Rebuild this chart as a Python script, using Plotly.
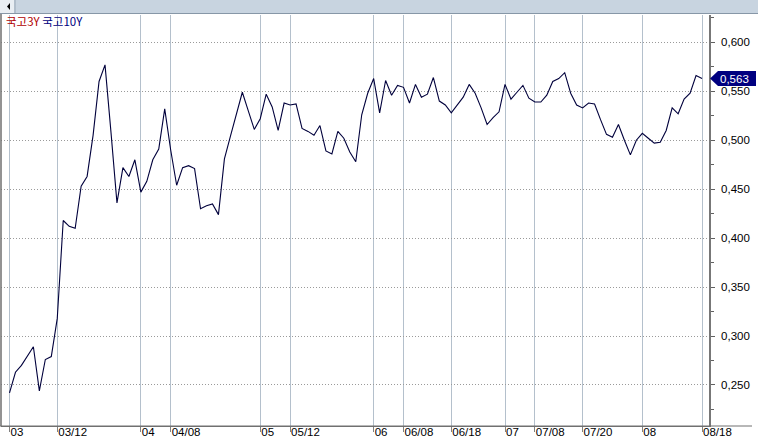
import plotly.graph_objects as go

# ---- data ----
idx_ticks = [0, 8, 22, 27, 42, 47, 61, 66, 74, 83, 88, 96, 106, 116]
x_labels = ["03", "03/12", "04", "04/08", "05", "05/12", "06", "06/08", "06/18",
            "07", "07/08", "07/20", "08", "08/18"]

spread_10y = [
    0.242, 0.263, 0.270, 0.279, 0.289, 0.244, 0.276, 0.279, 0.318, 0.418,
    0.412, 0.410, 0.453, 0.463, 0.505, 0.560, 0.577, 0.508, 0.436, 0.472,
    0.463, 0.480, 0.447, 0.458, 0.480, 0.491, 0.532, 0.490, 0.454, 0.472,
    0.474, 0.471, 0.430, 0.433, 0.435, 0.424, 0.481, 0.504, 0.527, 0.549,
    0.530, 0.511, 0.522, 0.547, 0.534, 0.510, 0.538, 0.536, 0.537, 0.512,
    0.509, 0.505, 0.515, 0.489, 0.486, 0.509, 0.502, 0.488, 0.478, 0.526,
    0.548, 0.563, 0.528, 0.561, 0.546, 0.556, 0.554, 0.538, 0.557, 0.544,
    0.547, 0.564, 0.540, 0.536, 0.528, 0.536, 0.544, 0.557, 0.548, 0.533,
    0.516, 0.523, 0.529, 0.557, 0.542, 0.549, 0.556, 0.543, 0.539, 0.539,
    0.546, 0.560, 0.563, 0.569, 0.548, 0.536, 0.533, 0.538, 0.537, 0.521,
    0.506, 0.503, 0.516, 0.500, 0.485, 0.500, 0.507, 0.502, 0.497, 0.498,
    0.510, 0.533, 0.527, 0.542, 0.548, 0.566, 0.563,
]
y_tickvals = [0.25, 0.30, 0.35, 0.40, 0.45, 0.50, 0.55, 0.60]
y_ticktext = ["0,250", "0,300", "0,350", "0,400", "0,450", "0,500", "0,550", "0,600"]
last_label = "0,563"

# ---- layout geometry (pixels) ----
W, H = 758, 442
L, R, T, B = 1, 49, 15, 16
PW, PH = W - L - R, H - T - B
YMIN, YMAX = 0.2081, 0.6279
XMIN, XMAX = -1.424, 117.17


def px_x(p):
    return (p - L) / PW


def px_y(p):
    return (H - B - p) / PH


x = list(range(len(spread_10y)))

fig = go.Figure()
fig.add_trace(go.Scatter(
    x=x, y=spread_10y, mode="lines",
    line=dict(color="#00003c", width=1.1),
    hoverinfo="skip", showlegend=False,
))

font_lbl = dict(family="Liberation Sans, Arial, sans-serif", size=11.5, color="#000000")

fig.update_layout(
    width=W, height=H,
    margin=dict(l=L, r=R, t=T, b=B, autoexpand=False),
    paper_bgcolor="#ffffff", plot_bgcolor="#ffffff",
    showlegend=False,
    xaxis=dict(
        range=[XMIN, XMAX], tickmode="array", tickvals=idx_ticks, ticktext=x_labels,
        ticklabelposition="outside right", tickangle=0, ticks="outside", ticklen=5,
        tickcolor="#808080", tickfont=font_lbl, ticklabelstandoff=-5,
        showgrid=True, gridcolor="#b4c0cc", gridwidth=1,
        showline=True, linecolor="#707070", linewidth=1,
        zeroline=False, automargin=False, fixedrange=True,
    ),
    yaxis=dict(
        side="right", range=[YMIN, YMAX], tickmode="array",
        tickvals=y_tickvals, ticktext=y_ticktext,
        ticks="outside", ticklen=4, tickcolor="#606060", tickfont=font_lbl,
        ticklabelstandoff=4,
        minor=dict(dtick=0.025, tick0=0.25, ticklen=3, tickcolor="#606060",
                   ticks="outside", showgrid=False),
        showgrid=True, gridcolor="#9a9a9a", gridwidth=1, griddash="1px,2px",
        showline=True, linecolor="#777777", linewidth=1.5,
        zeroline=False, automargin=False, fixedrange=True,
    ),
)

shapes = []
# top scrollbar
shapes.append(dict(type="rect", xref="paper", yref="paper",
                   x0=px_x(0), x1=px_x(W), y0=px_y(13), y1=px_y(0),
                   fillcolor="#c8d4e0", line=dict(width=0), layer="above"))
shapes.append(dict(type="rect", xref="paper", yref="paper",
                   x0=px_x(0), x1=px_x(14), y0=px_y(13), y1=px_y(0),
                   fillcolor="#e9eef3", line=dict(width=0), layer="above"))
shapes.append(dict(type="line", xref="paper", yref="paper",
                   x0=px_x(15), x1=px_x(15), y0=px_y(13), y1=px_y(0),
                   line=dict(color="#9aa8b6", width=1), layer="above"))
shapes.append(dict(type="path", xref="paper", yref="paper",
                   path=f"M {px_x(7)},{px_y(6.5)} L {px_x(10)},{px_y(3)} L {px_x(10)},{px_y(10)} Z",
                   fillcolor="#000000", line=dict(width=0), layer="above"))
shapes.append(dict(type="line", xref="paper", yref="paper",
                   x0=px_x(0), x1=px_x(W), y0=px_y(13.5), y1=px_y(13.5),
                   line=dict(color="#8797a7", width=1), layer="above"))
# left border
shapes.append(dict(type="line", xref="paper", yref="paper",
                   x0=px_x(1), x1=px_x(1), y0=0, y1=px_y(14),
                   line=dict(color="#6f6f6f", width=1.5), layer="above"))
# bottom axis line extension
shapes.append(dict(type="line", xref="paper", yref="paper",
                   x0=px_x(0), x1=px_x(752), y0=0, y1=0,
                   line=dict(color="#707070", width=1), layer="above"))

# last value badge
last_v = spread_10y[-1]
yc = (last_v - YMIN) / (YMAX - YMIN)
hh = 7.5 / PH
xt, xb, xr = px_x(710), px_x(718), px_x(756)
shapes.append(dict(type="path", xref="paper", yref="paper",
                   path=f"M {xt},{yc} L {xb},{yc + hh} L {xr},{yc + hh} L {xr},{yc - hh} L {xb},{yc - hh} Z",
                   fillcolor="#000080", line=dict(width=0), layer="above"))
fig.update_layout(shapes=shapes)

annotations = [
    dict(xref="paper", yref="paper", x=px_x(734), y=yc, text=last_label,
         showarrow=False, xanchor="center", yanchor="middle",
         font=dict(family="Liberation Sans, Arial, sans-serif", size=11.5, color="#ffffff")),
    dict(xref="paper", yref="paper", x=px_x(4), y=px_y(21),
         text="<span style='color:#b00000'>국고3Y</span> <span style='color:#000080'>국고10Y</span>",
         showarrow=False, xanchor="left", yanchor="middle",
         font=dict(family="Noto Sans CJK KR, sans-serif", size=11.5)),
]
fig.update_layout(annotations=annotations)

fig.write_html(
    "out.html",
    config={"displayModeBar": False},
    post_script="document.body.style.margin='0';document.body.style.overflow='hidden';",
)
